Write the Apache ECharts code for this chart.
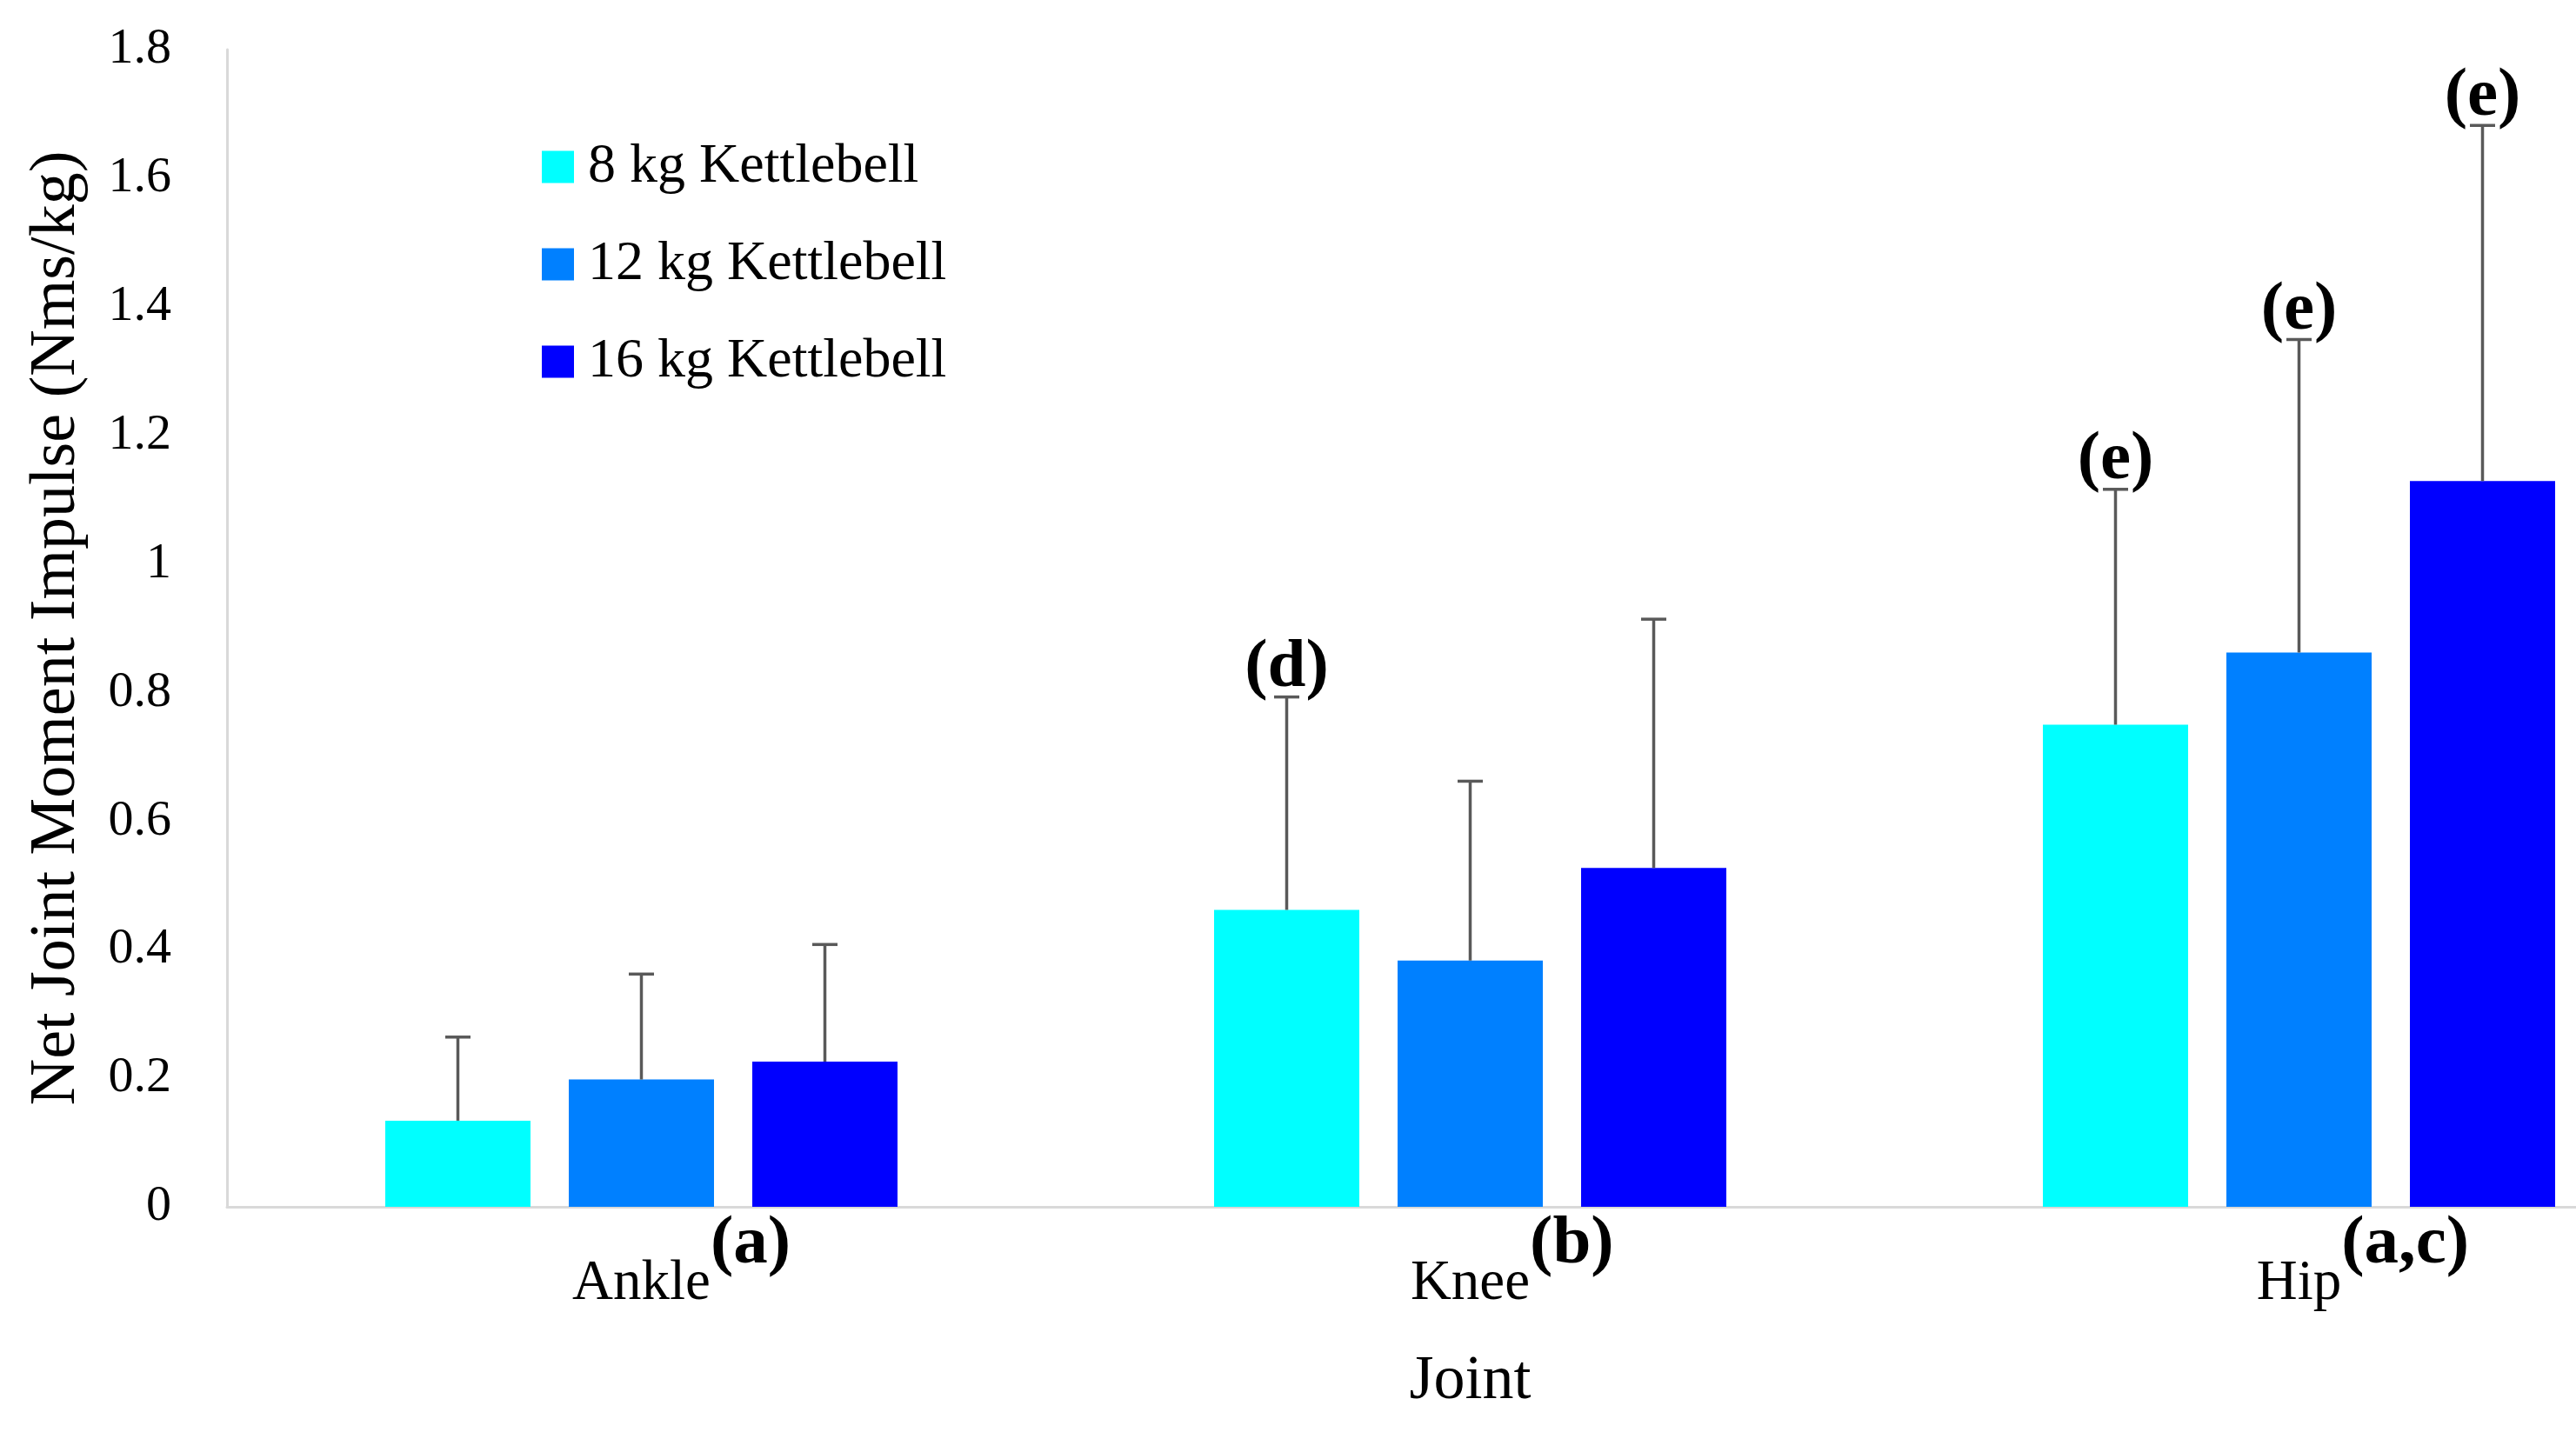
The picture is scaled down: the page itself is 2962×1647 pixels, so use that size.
<!DOCTYPE html>
<html>
<head>
<meta charset="utf-8">
<script src="https://cdn.jsdelivr.net/npm/echarts@6/dist/echarts.min.js"></script>
<style>
html,body{margin:0;padding:0;background:#fff;overflow:hidden;width:2962px;height:1647px;}
#chart{width:3120px;height:1647px;}
</style>
</head>
<body>
<div id="chart"></div>
<script>
// ---- data ----
const categories = ['Ankle', 'Knee', 'Hip'];
const categoryNotes = ['(a)', '(b)', '(a,c)'];
const seriesNames = ['8 kg Kettlebell', '12 kg Kettlebell', '16 kg Kettlebell'];
const kg8 = [0.134, 0.462, 0.750];
const kg12 = [0.198, 0.383, 0.862];
const kg16 = [0.226, 0.527, 1.129];
const sd8 = [0.130, 0.331, 0.366];
const sd12 = [0.164, 0.279, 0.487];
const sd16 = [0.182, 0.387, 0.553];
const notes8 = ['', '(d)', '(e)'];
const notes12 = ['', '', '(e)'];
const notes16 = ['', '', '(e)'];
const yTicks = [0, 0.2, 0.4, 0.6, 0.8, 1, 1.2, 1.4, 1.6, 1.8];

// ---- styles ----
const FONT = "'Liberation Serif', 'Times New Roman', serif";
const colors = ['#00FFFF', '#0080FF', '#0000FF'];
const BAR_W = 167;
const GAP_PX = 44;
const ERR_COLOR = '#595959';

const chart = echarts.init(document.getElementById('chart'), null, {renderer: 'canvas'});

const values = [kg8, kg12, kg16];
const sds = [sd8, sd12, sd16];
const notes = [notes8, notes12, notes16];

const barSeries = values.map((vals, i) => ({
  type: 'bar',
  name: seriesNames[i],
  data: vals,
  barWidth: BAR_W,
  barGap: (GAP_PX / BAR_W * 100).toFixed(2) + '%',
  itemStyle: {color: colors[i]},
  z: 2
}));

const errSeries = values.map((vals, si) => ({
  type: 'custom',
  data: vals.map((v, k) => [k, v, v + sds[si][k]]),
  z: 5,
  silent: true,
  renderItem: function (params, api) {
    const ci = api.value(0);
    const base = api.coord([ci, api.value(1)]);
    const top = api.coord([ci, api.value(2)]);
    const x = base[0] + (si - 1) * (BAR_W + GAP_PX);
    const children = [
      {type: 'line', shape: {x1: x, y1: base[1], x2: x, y2: top[1]},
       style: {stroke: ERR_COLOR, lineWidth: 3.5}},
      {type: 'line', shape: {x1: x - 14.5, y1: top[1], x2: x + 14.5, y2: top[1]},
       style: {stroke: ERR_COLOR, lineWidth: 3.5}}
    ];
    const note = notes[si][params.dataIndex];
    if (note) {
      children.push({type: 'text', style: {
        text: note, x: x, y: top[1] - 33, align: 'center', verticalAlign: 'middle',
        font: 'bold 79px ' + FONT, fill: '#000'
      }});
    }
    return {type: 'group', children: children};
  }
}));

const supStyle = {fontFamily: FONT, fontSize: 79, fontWeight: 'bold', color: '#000', lineHeight: 79, verticalAlign: 'top'};

chart.setOption({
  animation: false,
  backgroundColor: '#fff',
  textStyle: {fontFamily: FONT},
  grid: {left: 261, top: 57, bottom: 259, right: 0, containLabel: false},
  legend: {
    data: seriesNames,
    orient: 'vertical',
    left: 623,
    top: 160,
    padding: 0,
    itemWidth: 37,
    itemHeight: 37,
    itemGap: 48,
    icon: 'rect',
    textStyle: {fontFamily: FONT, fontSize: 64, color: '#000', padding: [0, 0, 0, 11]}
  },
  xAxis: {
    type: 'category',
    data: categories,
    name: 'Joint',
    nameLocation: 'middle',
    nameGap: 165,
    nameTextStyle: {fontFamily: FONT, fontSize: 72, color: '#000'},
    axisLine: {show: true, lineStyle: {color: '#d9d9d9', width: 3}},
    axisTick: {show: false},
    splitLine: {show: false},
    axisLabel: {
      interval: 0,
      margin: 4,
      formatter: function (value, index) {
        const note = categoryNotes[index];
        return '{h|' + note + '}{n|' + value + '}{s|' + note + '}';
      },
      rich: {
        h: Object.assign({}, supStyle, {color: 'rgba(0,0,0,0)'}),
        n: {fontFamily: FONT, fontSize: 65, color: '#000', lineHeight: 117, verticalAlign: 'bottom'},
        s: supStyle
      }
    }
  },
  yAxis: {
    type: 'value',
    min: yTicks[0],
    max: yTicks[yTicks.length - 1],
    interval: 0.2,
    name: 'Net Joint Moment Impulse (Nms/kg)',
    nameLocation: 'middle',
    nameGap: 158,
    nameTextStyle: {fontFamily: FONT, fontSize: 74, color: '#000'},
    axisLine: {show: true, lineStyle: {color: '#d9d9d9', width: 3}},
    axisTick: {show: false},
    splitLine: {show: false},
    axisLabel: {fontFamily: FONT, fontSize: 58, color: '#000', margin: 64,
      formatter: function (v) { return String(Math.round(v * 10) / 10); }}
  },
  series: barSeries.concat(errSeries)
});
</script>
</body>
</html>
